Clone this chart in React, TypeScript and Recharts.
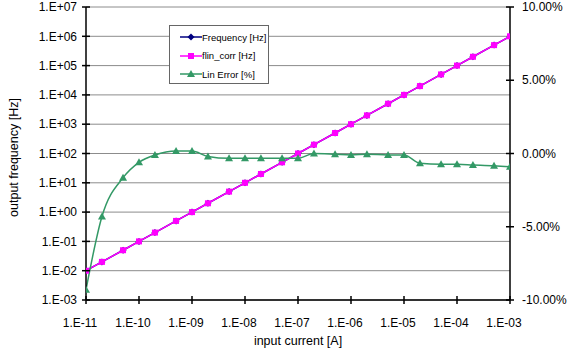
import React from "react";
import {
  ComposedChart,
  Line,
  XAxis,
  YAxis,
  CartesianGrid,
} from "recharts";

// input current [A], 1-2-5 steps
const currents = [
  1e-11, 2e-11, 5e-11, 1e-10, 2e-10, 5e-10, 1e-9, 2e-9, 5e-9, 1e-8, 2e-8, 5e-8,
  1e-7, 2e-7, 5e-7, 1e-6, 2e-6, 5e-6, 1e-5, 2e-5, 5e-5, 1e-4, 2e-4, 5e-4, 1e-3,
];
const frequency = [
  0.01, 0.02, 0.05, 0.1, 0.2, 0.5, 1, 2, 5, 10, 20, 50, 100, 200, 500, 1000,
  2000, 5000, 10000, 20000, 50000, 100000, 200000, 500000, 1000000,
];
const flinCorr = [
  0.01, 0.02, 0.05, 0.1, 0.2, 0.5, 1, 2, 5, 10, 20, 50, 100, 200, 500, 1000,
  2000, 5000, 10000, 20000, 50000, 100000, 200000, 500000, 1000000,
];
const linError = [
  -9.3, -4.3, -1.65, -0.6, -0.1, 0.17, 0.17, -0.2, -0.33, -0.33, -0.33, -0.33,
  -0.33, 0.0, -0.05, -0.1, -0.05, -0.1, -0.1, -0.67, -0.74, -0.74, -0.78, -0.83,
  -0.9,
];

const xTicks = [1e-11, 1e-10, 1e-9, 1e-8, 1e-7, 1e-6, 1e-5, 1e-4, 1e-3];
const leftTicks = [1e-3, 1e-2, 1e-1, 1, 10, 100, 1e3, 1e4, 1e5, 1e6, 1e7];
const rightTicks = [-10, -5, 0, 5, 10];

const data = currents.map((c, i) => ({
  current: c,
  frequency: frequency[i],
  flin: flinCorr[i],
  err: linError[i],
}));

const FONT = "'Liberation Sans', Arial, sans-serif";
const BLUE = "#000080";
const MAGENTA = "#FF00FF";
const GREEN = "#339966";
const TICK_FS = 12;

const sci = (v: number) => {
  const e = Math.round(Math.log10(v));
  const sign = e < 0 ? "-" : "+";
  return `1.E${sign}${String(Math.abs(e)).padStart(2, "0")}`;
};

const LeftTick = ({ x, y, payload }: any) => (
  <g>
    <line x1={x - 4} x2={x + 4} y1={y} y2={y} stroke="#000" strokeWidth={1.5} />
    <text x={x - 9} y={y} dy="0.35em" textAnchor="end" fontSize={TICK_FS} fontFamily={FONT} fill="#000">
      {sci(payload.value)}
    </text>
  </g>
);

const RightTick = ({ x, y, payload }: any) => (
  <g>
    <line x1={x - 4} x2={x + 4} y1={y} y2={y} stroke="#000" strokeWidth={1.5} />
    <text x={x + 12} y={y} dy="0.35em" textAnchor="start" fontSize={TICK_FS} fontFamily={FONT} fill="#000">
      {`${payload.value.toFixed(2)}%`}
    </text>
  </g>
);

const BottomTick = ({ x, y, payload }: any) => (
  <g>
    <line x1={x} x2={x} y1={y - 4} y2={y + 4} stroke="#000" strokeWidth={1.5} />
    <text x={x - 6} y={y + 27} textAnchor="middle" fontSize={TICK_FS} fontFamily={FONT} fill="#000">
      {sci(payload.value)}
    </text>
  </g>
);

const Square = (p: any) => (
  <rect key={`s${p.index}`} x={p.cx - 3} y={p.cy - 3} width={6} height={6} fill={MAGENTA} />
);
const Diamond = (p: any) => (
  <polygon
    key={`d${p.index}`}
    points={`${p.cx},${p.cy - 3.5} ${p.cx + 3.5},${p.cy} ${p.cx},${p.cy + 3.5} ${p.cx - 3.5},${p.cy}`}
    fill={BLUE}
  />
);
const Triangle = (p: any) => (
  <polygon
    key={`t${p.index}`}
    points={`${p.cx},${p.cy - 4} ${p.cx + 4},${p.cy + 3} ${p.cx - 4},${p.cy + 3}`}
    fill={GREEN}
  />
);

const legendItems = [
  { name: "Frequency [Hz]", color: BLUE, shape: "diamond" },
  { name: "flin_corr [Hz]", color: MAGENTA, shape: "square" },
  { name: "Lin Error [%]", color: GREEN, shape: "triangle" },
];

// drawn over the plot, so it doesn't shrink the chart area
const LegendBox = () => (
  <div
    style={{
      position: "absolute",
      left: 169,
      top: 25,
      width: 98,
      height: 55,
      border: "1px solid #666",
      background: "#fff",
      fontFamily: FONT,
      fontSize: 9.5,
      color: "#000",
      paddingTop: 2,
      boxSizing: "content-box",
    }}
  >
    {legendItems.map((it) => (
      <div key={it.name} style={{ display: "flex", alignItems: "center", height: 18.5 }}>
        <svg width={32} height={10} style={{ marginLeft: 8 }}>
          <line x1={2} x2={24} y1={5} y2={5} stroke={it.color} strokeWidth={1.5} />
          {it.shape === "diamond" && <polygon points="13,1.5 16.5,5 13,8.5 9.5,5" fill={it.color} />}
          {it.shape === "square" && <rect x={10} y={2} width={6} height={6} fill={it.color} />}
          {it.shape === "triangle" && <polygon points="13,1 17,8 9,8" fill={it.color} />}
        </svg>
        <span style={{ marginLeft: -8 }}>{it.name}</span>
      </div>
    ))}
  </div>
);

const YTitle = ({ viewBox }: any) => {
  const x = viewBox.x + 15;
  const y = viewBox.y + viewBox.height / 2 + 4;
  return (
    <text x={x} y={y} transform={`rotate(-90 ${x} ${y})`} textAnchor="middle" dominantBaseline="middle" fontSize={12.5} fontFamily={FONT} fill="#000">
      output frequency [Hz]
    </text>
  );
};

const XTitle = ({ viewBox }: any) => (
  <text x={viewBox.x + viewBox.width / 2} y={viewBox.y + 42} textAnchor="middle" dominantBaseline="middle" fontSize={12.5} fontFamily={FONT} fill="#000">
    input current [A]
  </text>
);

export default function App() {
  return (
    <div style={{ position: "absolute", left: 0, top: 0, width: 581, height: 360, background: "#fff" }}>
      <ComposedChart width={581} height={360} data={data} margin={{ top: 7, right: 0, bottom: 0, left: 0 }}>
        <CartesianGrid yAxisId="left" vertical={false} stroke="#8c8c8c" strokeWidth={1} />
        <XAxis
          dataKey="current"
          type="number"
          scale="log"
          domain={[1e-11, 1e-3]}
          ticks={xTicks}
          allowDataOverflow
          height={60}
          axisLine={{ stroke: "#000", strokeWidth: 1.5 }}
          tickLine={false}
          tickSize={0}
          tickMargin={0}
          tick={<BottomTick />}
          interval={0}
          label={<XTitle />}
        />
        <YAxis
          yAxisId="left"
          type="number"
          scale="log"
          domain={[1e-3, 1e7]}
          ticks={leftTicks}
          allowDataOverflow
          width={86}
          axisLine={{ stroke: "#000", strokeWidth: 1.5 }}
          tickLine={false}
          tickSize={0}
          tickMargin={0}
          tick={<LeftTick />}
          interval={0}
          label={<YTitle />}
        />
        <YAxis
          yAxisId="right"
          orientation="right"
          type="number"
          domain={[-10, 10]}
          ticks={rightTicks}
          width={71}
          axisLine={{ stroke: "#000", strokeWidth: 1.5 }}
          tickLine={false}
          tickSize={0}
          tickMargin={0}
          tick={<RightTick />}
          interval={0}
        />
        <Line
          yAxisId="left"
          dataKey="frequency"
          name="Frequency [Hz]"
          type="linear"
          stroke={BLUE}
          strokeWidth={1.5}
          dot={Diamond}
          isAnimationActive={false}
        />
        <Line
          yAxisId="left"
          dataKey="flin"
          name="flin_corr [Hz]"
          type="linear"
          stroke={MAGENTA}
          strokeWidth={1.5}
          dot={Square}
          isAnimationActive={false}
        />
        <Line
          yAxisId="right"
          dataKey="err"
          name="Lin Error [%]"
          type="monotone"
          stroke={GREEN}
          strokeWidth={1.5}
          dot={Triangle}
          isAnimationActive={false}
        />
      </ComposedChart>
      <LegendBox />
    </div>
  );
}
